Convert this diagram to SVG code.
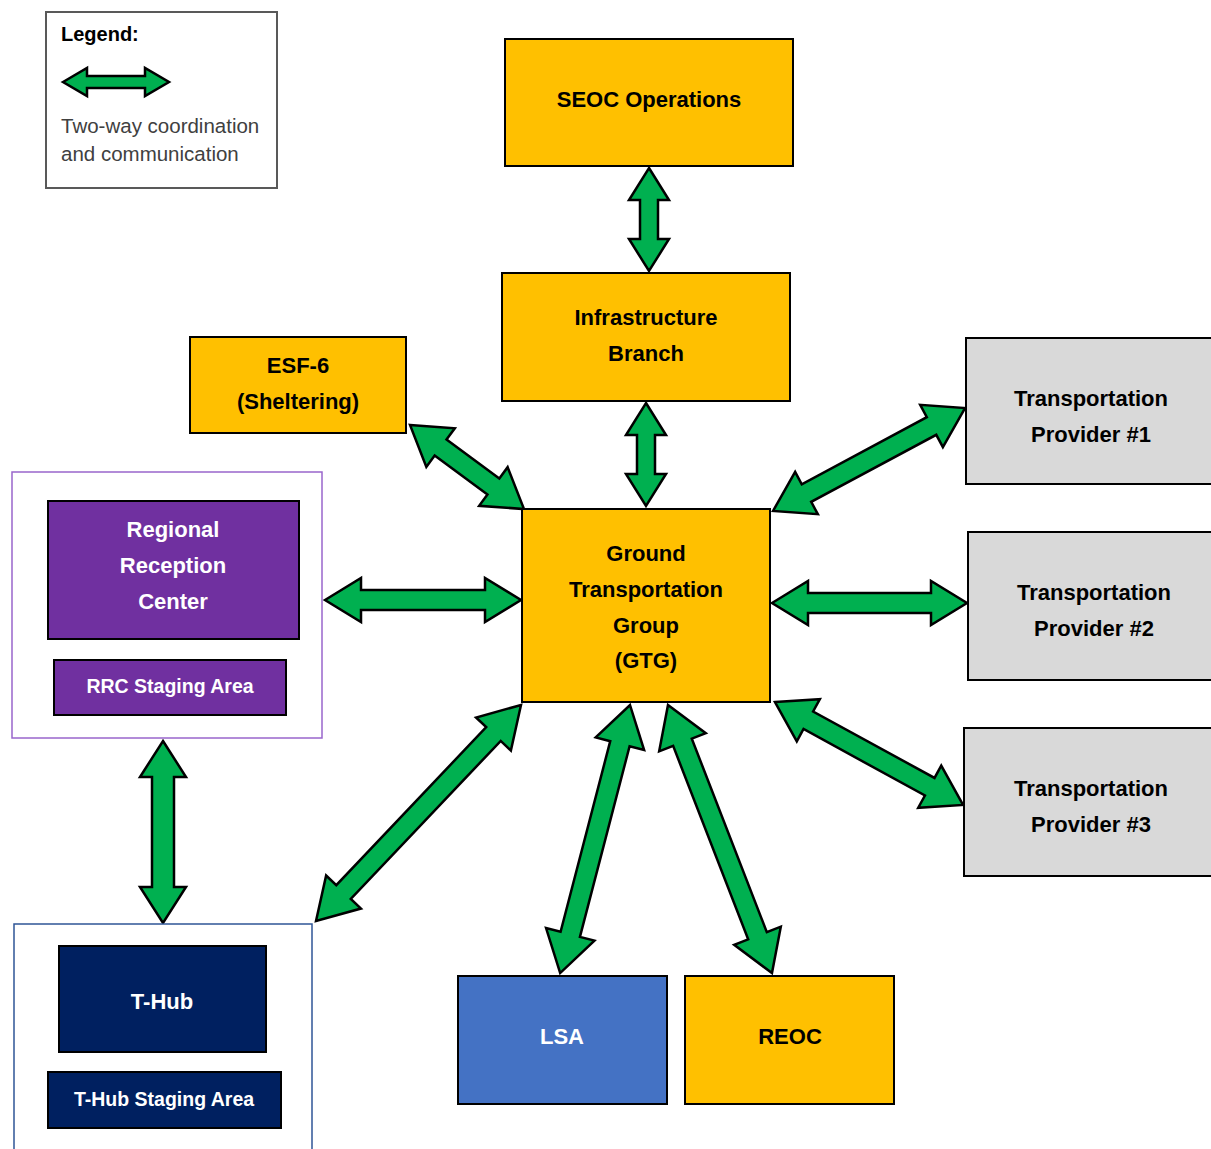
<svg xmlns="http://www.w3.org/2000/svg" width="1211" height="1149" viewBox="0 0 1211 1149">
  <style>
    .lbl { font-family: "Liberation Sans", Arial, sans-serif; font-weight: bold; font-size: 22px; text-anchor: middle; fill: #000; }
    .wht { fill: #fff; }
    .sm { font-size: 19.5px; }
    .box { stroke: #000; stroke-width: 2; }
    .gold { fill: #FFC000; }
    .grey { fill: #D9D9D9; }
    .purple { fill: #7030A0; }
    .navy { fill: #002060; }
    .blue { fill: #4472C4; }
    .arrow { fill: #00B050; stroke: #000; stroke-width: 2.5; stroke-linejoin: miter; }
    .legtxt { font-family: "Liberation Sans", Arial, sans-serif; font-size: 20.5px; fill: #404040; }
  </style>

  <!-- legend -->
  <g id="legend">
    <rect x="46" y="12" width="231" height="176" fill="#fff" stroke="#595959" stroke-width="2"/>
    <text x="61" y="41" style="font-family: 'Liberation Sans', Arial, sans-serif; font-weight: bold; font-size: 20px; fill: #000;">Legend:</text>
    <polygon class="arrow" transform="translate(63,82)" points="0,0 24,-14 24,-6 82,-6 82,-14 106,0 82,14 82,6 24,6 24,14"/>
    <text class="legtxt" x="61" y="133">Two-way coordination</text>
    <text class="legtxt" x="61" y="161">and communication</text>
  </g>

  <!-- connectors: two-way block arrows -->
  <g id="connectors">
    <!-- SEOC <-> Infrastructure -->
    <polygon class="arrow" transform="translate(649,168) rotate(90)" points="0,0 32,-20 32,-9 71,-9 71,-20 103,0 71,20 71,9 32,9 32,20"/>
    <!-- Infrastructure <-> GTG -->
    <polygon class="arrow" transform="translate(646,403) rotate(90)" points="0,0 32,-20 32,-9 71,-9 71,-20 103,0 71,20 71,9 32,9 32,20"/>
    <!-- ESF-6 <-> GTG -->
    <polygon class="arrow" transform="translate(410,425) rotate(36.4)" points="0,0 38,-24 38,-10 103.6,-10 103.6,-24 141.6,0 103.6,24 103.6,10 38,10 38,24"/>
    <!-- RRC <-> GTG -->
    <polygon class="arrow" transform="translate(325,600)" points="0,0 36,-22 36,-10 160,-10 160,-22 196,0 160,22 160,10 36,10 36,22"/>
    <!-- GTG <-> Provider 2 -->
    <polygon class="arrow" transform="translate(772,603)" points="0,0 36,-22 36,-10 159,-10 159,-22 195,0 159,22 159,10 36,10 36,22"/>
    <!-- GTG <-> Provider 1 -->
    <polygon class="arrow" transform="translate(773,511) rotate(-28.2)" points="0,0 38,-24 38,-10 179.9,-10 179.9,-24 217.9,0 179.9,24 179.9,10 38,10 38,24"/>
    <!-- GTG <-> Provider 3 -->
    <polygon class="arrow" transform="translate(775,702) rotate(28.7)" points="0,0 38,-24 38,-10 176.4,-10 176.4,-24 214.4,0 176.4,24 176.4,10 38,10 38,24"/>
    <!-- RRC <-> T-Hub -->
    <polygon class="arrow" transform="translate(163,741) rotate(90)" points="0,0 36,-23 36,-11 146,-11 146,-23 182,0 146,23 146,11 36,11 36,23"/>
    <!-- GTG <-> T-Hub -->
    <polygon class="arrow" transform="translate(521,705) rotate(133.5)" points="0,0 40,-24 40,-10 257.8,-10 257.8,-24 297.8,0 257.8,24 257.8,10 40,10 40,24"/>
    <!-- GTG <-> LSA -->
    <polygon class="arrow" transform="translate(630,705) rotate(104.6)" points="0,0 40,-25 40,-10 237,-10 237,-25 277,0 237,25 237,10 40,10 40,25"/>
    <!-- GTG <-> REOC -->
    <polygon class="arrow" transform="translate(668,705) rotate(68.8)" points="0,0 40,-25 40,-10 247.5,-10 247.5,-25 287.5,0 247.5,25 247.5,10 40,10 40,25"/>
  </g>

  <g id="seoc">
    <rect class="box gold" x="505" y="39" width="288" height="127"/>
    <text class="lbl" x="649" y="107">SEOC Operations</text>
  </g>

  <g id="infrastructure">
    <rect class="box gold" x="502" y="273" width="288" height="128"/>
    <text class="lbl" x="646" y="325">Infrastructure</text>
    <text class="lbl" x="646" y="361">Branch</text>
  </g>

  <g id="esf6">
    <rect class="box gold" x="190" y="337" width="216" height="96"/>
    <text class="lbl" x="298" y="373">ESF-6</text>
    <text class="lbl" x="298" y="409">(Sheltering)</text>
  </g>

  <g id="gtg">
    <rect class="box gold" x="522" y="509" width="248" height="193"/>
    <text class="lbl" x="646" y="561">Ground</text>
    <text class="lbl" x="646" y="597">Transportation</text>
    <text class="lbl" x="646" y="633">Group</text>
    <text class="lbl" x="646" y="668">(GTG)</text>
  </g>

  <g id="provider1">
    <rect class="box grey" x="966" y="338" width="250" height="146"/>
    <text class="lbl" x="1091" y="406">Transportation</text>
    <text class="lbl" x="1091" y="442">Provider #1</text>
  </g>

  <g id="provider2">
    <rect class="box grey" x="968" y="532" width="250" height="148"/>
    <text class="lbl" x="1094" y="600">Transportation</text>
    <text class="lbl" x="1094" y="636">Provider #2</text>
  </g>

  <g id="provider3">
    <rect class="box grey" x="964" y="728" width="252" height="148"/>
    <text class="lbl" x="1091" y="796">Transportation</text>
    <text class="lbl" x="1091" y="832">Provider #3</text>
  </g>

  <g id="rrc">
    <rect x="12" y="472" width="310" height="266" fill="#fff" stroke="#9966CC" stroke-width="1.5"/>
    <rect class="box purple" x="48" y="501" width="251" height="138"/>
    <text class="lbl wht" x="173" y="537">Regional</text>
    <text class="lbl wht" x="173" y="573">Reception</text>
    <text class="lbl wht" x="173" y="609">Center</text>
    <rect class="box purple" x="54" y="660" width="232" height="55"/>
    <text class="lbl wht sm" x="170" y="693">RRC Staging Area</text>
  </g>

  <g id="thub">
    <rect x="14" y="924" width="298" height="240" fill="#fff" stroke="#2F5597" stroke-width="1.5"/>
    <rect class="box navy" x="59" y="946" width="207" height="106"/>
    <text class="lbl wht" x="162" y="1009">T-Hub</text>
    <rect class="box navy" x="48" y="1072" width="233" height="56"/>
    <text class="lbl wht sm" x="164" y="1106">T-Hub Staging Area</text>
  </g>

  <g id="lsa">
    <rect class="box blue" x="458" y="976" width="209" height="128"/>
    <text class="lbl wht" x="562" y="1044">LSA</text>
  </g>

  <g id="reoc">
    <rect class="box gold" x="685" y="976" width="209" height="128"/>
    <text class="lbl" x="790" y="1044">REOC</text>
  </g>
</svg>
